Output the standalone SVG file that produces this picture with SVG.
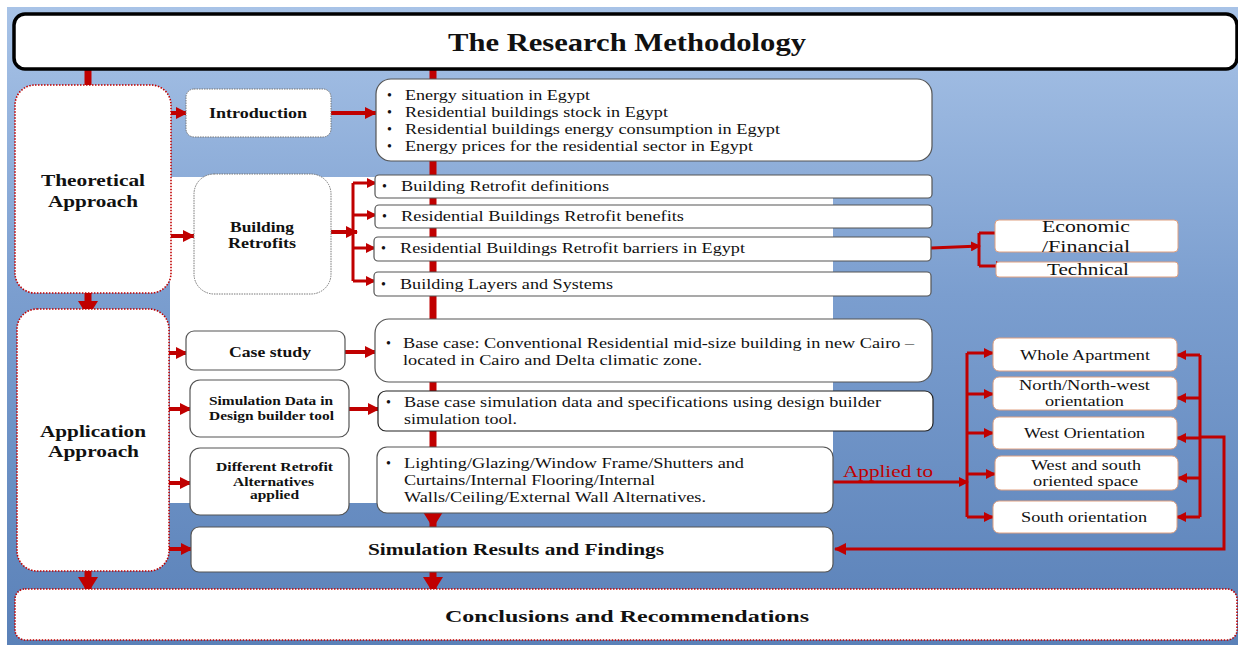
<svg xmlns="http://www.w3.org/2000/svg" width="1238" height="645" viewBox="0 0 1238 645">
<defs>
<linearGradient id="bg" x1="0" y1="0" x2="0" y2="1">
<stop offset="0" stop-color="#a8c3e7"/>
<stop offset="0.45" stop-color="#7b9ecf"/>
<stop offset="1" stop-color="#5a81b8"/>
</linearGradient>
<marker id="ah" markerUnits="userSpaceOnUse" markerWidth="12" markerHeight="12" refX="11" refY="6" orient="auto"><path d="M0,0 L12,6 L0,12 z" fill="#c00000"/></marker>
<marker id="sh" markerUnits="userSpaceOnUse" markerWidth="10" markerHeight="10" refX="9" refY="5" orient="auto"><path d="M0,0 L10,5 L0,10 z" fill="#c00000"/></marker>
<marker id="big" markerUnits="userSpaceOnUse" markerWidth="16" markerHeight="20" refX="15" refY="10" orient="auto"><path d="M0,0 L16,10 L0,20 z" fill="#c00000"/></marker>
<style>
.t{font-family:"Liberation Serif","DejaVu Serif",serif;fill:#111}
.b{font-weight:bold}
.box{fill:#fff;stroke:#555;stroke-width:1.2}
.dot{fill:#fff;stroke:#777;stroke-width:1;stroke-dasharray:1.5 1}
.red{fill:#fff;stroke:#c00000;stroke-width:1.6;stroke-dasharray:1.5 1.5}
.org{fill:#fff;stroke:#e0a080;stroke-width:1}
.c{stroke:#c00000;fill:none}
.w4{stroke-width:4}
.w3{stroke-width:3}
.w6{stroke-width:7}
</style>
</defs>
<rect x="0" y="0" width="1238" height="645" fill="#fff"/>
<rect x="7" y="7" width="1231" height="638" fill="url(#bg)"/>
<rect x="170" y="177" width="663" height="326" fill="#fff"/>

<g id="connectors">
<line class="c w6" x1="88" y1="68" x2="88" y2="86"/>
<line class="c w6" x1="88" y1="293" x2="88" y2="316" marker-end="url(#big)"/>
<line class="c w6" x1="88" y1="571" x2="88" y2="592" marker-end="url(#big)"/>
<line class="c w6" x1="433" y1="68" x2="433" y2="527" marker-end="url(#big)"/>
<line class="c w6" x1="433" y1="572" x2="433" y2="592" marker-end="url(#big)"/>
<line class="c w4" x1="171" y1="113" x2="187" y2="113" marker-end="url(#ah)"/>
<line class="c w4" x1="331" y1="113" x2="376" y2="113" marker-end="url(#ah)"/>
<line class="c w4" x1="171" y1="236" x2="194" y2="236" marker-end="url(#ah)"/>
<line class="c w4" x1="331" y1="232" x2="357" y2="232" marker-end="url(#ah)"/>
<path class="c w3" d="M353,183 L353,281"/>
<line class="c w3" x1="353" y1="183" x2="376" y2="183" marker-end="url(#sh)"/>
<line class="c w3" x1="353" y1="215" x2="376" y2="215" marker-end="url(#sh)"/>
<line class="c w3" x1="353" y1="248" x2="375" y2="248" marker-end="url(#sh)"/>
<line class="c w3" x1="353" y1="281" x2="375" y2="281" marker-end="url(#sh)"/>
<line class="c w3" x1="931" y1="248" x2="980" y2="246" marker-end="url(#sh)"/>
<path class="c w3" d="M979,233 L979,266"/>
<line class="c w3" x1="979" y1="233" x2="1005" y2="233" marker-end="url(#sh)"/>
<line class="c w3" x1="979" y1="266" x2="1005" y2="266" marker-end="url(#sh)"/>
<line class="c w4" x1="169" y1="353" x2="187" y2="353" marker-end="url(#ah)"/>
<line class="c w4" x1="345" y1="352" x2="376" y2="352" marker-end="url(#ah)"/>
<line class="c w4" x1="169" y1="409" x2="191" y2="409" marker-end="url(#ah)"/>
<line class="c w4" x1="349" y1="409" x2="379" y2="409" marker-end="url(#ah)"/>
<line class="c w4" x1="169" y1="483" x2="191" y2="483" marker-end="url(#ah)"/>
<line class="c w4" x1="169" y1="549" x2="192" y2="549" marker-end="url(#ah)"/>
<line class="c w3" x1="833" y1="482" x2="968" y2="482" marker-end="url(#sh)"/>
<path class="c w3" d="M967,353 L967,517"/>
<line class="c w3" x1="967" y1="353" x2="993" y2="353" marker-end="url(#sh)"/>
<line class="c w3" x1="967" y1="394" x2="993" y2="394" marker-end="url(#sh)"/>
<line class="c w3" x1="967" y1="433" x2="993" y2="433" marker-end="url(#sh)"/>
<line class="c w3" x1="967" y1="474" x2="995" y2="474" marker-end="url(#sh)"/>
<line class="c w3" x1="967" y1="517" x2="993" y2="517" marker-end="url(#sh)"/>
<path class="c w3" d="M1200,355 L1200,517"/>
<line class="c w3" x1="1200" y1="355" x2="1177" y2="355" marker-end="url(#sh)"/>
<line class="c w3" x1="1200" y1="398" x2="1177" y2="398" marker-end="url(#sh)"/>
<line class="c w3" x1="1200" y1="438" x2="1177" y2="438" marker-end="url(#sh)"/>
<line class="c w3" x1="1200" y1="478" x2="1178" y2="478" marker-end="url(#sh)"/>
<line class="c w3" x1="1200" y1="517" x2="1177" y2="517" marker-end="url(#sh)"/>
<path class="c w3" d="M1200,437 L1224,437 L1224,549 L835,549" marker-end="url(#ah)"/>
<text class="t" x="843" y="477" font-size="17" style="fill:#c00000" textLength="90" lengthAdjust="spacingAndGlyphs">Applied to</text>
</g>

<g id="title">
<rect x="14" y="14" width="1223" height="55" rx="11" fill="#fff" stroke="#000" stroke-width="3.5"/>
<text class="t b" x="448" y="51" font-size="26" textLength="358" lengthAdjust="spacingAndGlyphs">The Research Methodology</text>
</g>

<g id="theoretical">
<rect class="red" x="15" y="85" width="156" height="208" rx="20"/>
<text class="t b" x="41" y="186" font-size="17.5" textLength="104" lengthAdjust="spacingAndGlyphs">Theoretical</text>
<text class="t b" x="48" y="207" font-size="17.5" textLength="90" lengthAdjust="spacingAndGlyphs">Approach</text>
</g>

<g id="application">
<rect class="red" x="17" y="309" width="152" height="262" rx="20"/>
<text class="t b" x="40" y="437" font-size="17.5" textLength="106" lengthAdjust="spacingAndGlyphs">Application</text>
<text class="t b" x="48" y="457" font-size="17.5" textLength="91" lengthAdjust="spacingAndGlyphs">Approach</text>
</g>

<g id="conclusions">
<rect class="red" x="15" y="589" width="1222" height="51" rx="10"/>
<text class="t b" x="445" y="622" font-size="17.5" textLength="364" lengthAdjust="spacingAndGlyphs">Conclusions and Recommendations</text>
</g>

<g id="introduction">
<rect class="dot" x="186" y="89" width="145" height="48" rx="8"/>
<text class="t b" x="209" y="118" font-size="15" textLength="98" lengthAdjust="spacingAndGlyphs">Introduction</text>
</g>

<g id="intro-list">
<rect class="box" x="376" y="79" width="556" height="82" rx="15"/>
<g class="t" font-size="14">
<text x="387" y="100">•</text><text x="405" y="100" textLength="185" lengthAdjust="spacingAndGlyphs">Energy situation in Egypt</text>
<text x="387" y="117">•</text><text x="405" y="117" textLength="263" lengthAdjust="spacingAndGlyphs">Residential buildings stock in Egypt</text>
<text x="387" y="134">•</text><text x="405" y="134" textLength="375" lengthAdjust="spacingAndGlyphs">Residential buildings energy consumption in Egypt</text>
<text x="387" y="151">•</text><text x="405" y="151" textLength="348" lengthAdjust="spacingAndGlyphs">Energy prices for the residential sector in Egypt</text>
</g>
</g>

<g id="building-retrofits">
<rect class="dot" x="194" y="174" width="137" height="120" rx="20"/>
<text class="t b" x="230" y="232" font-size="15.5" textLength="64" lengthAdjust="spacingAndGlyphs">Building</text>
<text class="t b" x="228" y="248" font-size="15.5" textLength="68" lengthAdjust="spacingAndGlyphs">Retrofits</text>
</g>

<g id="retrofit-definitions">
<rect class="box" x="375" y="175" width="557" height="23" rx="4"/>
<text class="t" x="382" y="191" font-size="14">•</text><text class="t" x="401" y="191" font-size="14" textLength="208" lengthAdjust="spacingAndGlyphs">Building Retrofit definitions</text>
</g>
<g id="retrofit-benefits">
<rect class="box" x="375" y="205" width="557" height="23" rx="4"/>
<text class="t" x="382" y="221" font-size="14">•</text><text class="t" x="401" y="221" font-size="14" textLength="283" lengthAdjust="spacingAndGlyphs">Residential Buildings Retrofit benefits</text>
</g>
<g id="retrofit-barriers">
<rect class="box" x="374" y="237" width="557" height="24" rx="4"/>
<text class="t" x="381" y="253" font-size="14">•</text><text class="t" x="400" y="253" font-size="14" textLength="345" lengthAdjust="spacingAndGlyphs">Residential Buildings Retrofit barriers in Egypt</text>
</g>
<g id="building-layers">
<rect class="box" x="374" y="272" width="557" height="24" rx="4"/>
<text class="t" x="381" y="289" font-size="14">•</text><text class="t" x="400" y="289" font-size="14" textLength="213" lengthAdjust="spacingAndGlyphs">Building Layers and Systems</text>
</g>

<g id="economic">
<rect class="org" x="995" y="220" width="183" height="32" rx="4"/>
<text class="t" x="1042" y="232" font-size="16.5" textLength="88" lengthAdjust="spacingAndGlyphs">Economic</text>
<text class="t" x="1042" y="252" font-size="16.5" textLength="88" lengthAdjust="spacingAndGlyphs">/Financial</text>
</g>
<g id="technical">
<rect class="org" x="996" y="262" width="182" height="15" rx="3"/>
<text class="t" x="1047" y="275" font-size="16.5" textLength="82" lengthAdjust="spacingAndGlyphs">Technical</text>
</g>

<g id="case-study">
<rect class="box" x="186" y="331" width="159" height="39" rx="8"/>
<text class="t b" x="229" y="357" font-size="15" textLength="82" lengthAdjust="spacingAndGlyphs">Case study</text>
</g>
<g id="base-case">
<rect class="box" x="375" y="319" width="557" height="63" rx="14"/>
<text class="t" x="386" y="348" font-size="14">•</text><text class="t" x="403" y="348" font-size="14" textLength="511" lengthAdjust="spacingAndGlyphs">Base case: Conventional Residential mid-size building in new Cairo –</text>
<text class="t" x="403" y="365" font-size="14" textLength="299" lengthAdjust="spacingAndGlyphs">located in Cairo and Delta climatic zone.</text>
</g>

<g id="simulation-data">
<rect class="box" x="190" y="380" width="159" height="57" rx="10"/>
<text class="t b" x="209" y="405" font-size="12.5" textLength="124" lengthAdjust="spacingAndGlyphs">Simulation Data in</text>
<text class="t b" x="209" y="420" font-size="12.5" textLength="125" lengthAdjust="spacingAndGlyphs">Design builder tool</text>
</g>
<g id="sim-data-list">
<rect class="box" x="378" y="391" width="555" height="40" rx="8" style="stroke:#222"/>
<text class="t" x="386" y="407" font-size="14">•</text><text class="t" x="404" y="407" font-size="14" textLength="477" lengthAdjust="spacingAndGlyphs">Base case simulation data and specifications using design builder</text>
<text class="t" x="404" y="424" font-size="14" textLength="113" lengthAdjust="spacingAndGlyphs">simulation tool.</text>
</g>

<g id="different-retrofit">
<rect class="box" x="190" y="448" width="159" height="67" rx="10"/>
<text class="t b" x="216" y="471" font-size="12.5" textLength="117" lengthAdjust="spacingAndGlyphs">Different Retrofit</text>
<text class="t b" x="233" y="486" font-size="12.5" textLength="81" lengthAdjust="spacingAndGlyphs">Alternatives</text>
<text class="t b" x="250" y="499" font-size="12.5" textLength="49" lengthAdjust="spacingAndGlyphs">applied</text>
</g>
<g id="alternatives-list">
<rect class="box" x="377" y="447" width="456" height="66" rx="10"/>
<text class="t" x="386" y="468" font-size="14">•</text><text class="t" x="404" y="468" font-size="14" textLength="340" lengthAdjust="spacingAndGlyphs">Lighting/Glazing/Window  Frame/Shutters and</text>
<text class="t" x="404" y="485" font-size="14" textLength="251" lengthAdjust="spacingAndGlyphs">Curtains/Internal Flooring/Internal</text>
<text class="t" x="404" y="502" font-size="14" textLength="302" lengthAdjust="spacingAndGlyphs">Walls/Ceiling/External Wall Alternatives.</text>
</g>

<g id="simulation-results">
<rect class="box" x="191" y="527" width="642" height="45" rx="8"/>
<text class="t b" x="368" y="555" font-size="17.5" textLength="296" lengthAdjust="spacingAndGlyphs">Simulation Results and Findings</text>
</g>

<g id="whole-apartment">
<rect class="org" x="993" y="338" width="184" height="33" rx="6"/>
<text class="t" x="1020" y="360" font-size="14" textLength="130" lengthAdjust="spacingAndGlyphs">Whole Apartment</text>
</g>
<g id="north">
<rect class="org" x="993" y="377" width="184" height="33" rx="6"/>
<text class="t" x="1019" y="390" font-size="14" textLength="131" lengthAdjust="spacingAndGlyphs">North/North-west</text>
<text class="t" x="1045" y="406" font-size="14" textLength="79" lengthAdjust="spacingAndGlyphs">orientation</text>
</g>
<g id="west">
<rect class="org" x="993" y="417" width="184" height="32" rx="6"/>
<text class="t" x="1024" y="438" font-size="14" textLength="121" lengthAdjust="spacingAndGlyphs">West Orientation</text>
</g>
<g id="west-south">
<rect class="org" x="995" y="456" width="183" height="34" rx="6"/>
<text class="t" x="1031" y="470" font-size="14" textLength="110" lengthAdjust="spacingAndGlyphs">West and south</text>
<text class="t" x="1033" y="486" font-size="14" textLength="105" lengthAdjust="spacingAndGlyphs">oriented space</text>
</g>
<g id="south">
<rect class="org" x="993" y="501" width="184" height="32" rx="6"/>
<text class="t" x="1021" y="522" font-size="14" textLength="126" lengthAdjust="spacingAndGlyphs">South orientation</text>
</g>
</svg>
